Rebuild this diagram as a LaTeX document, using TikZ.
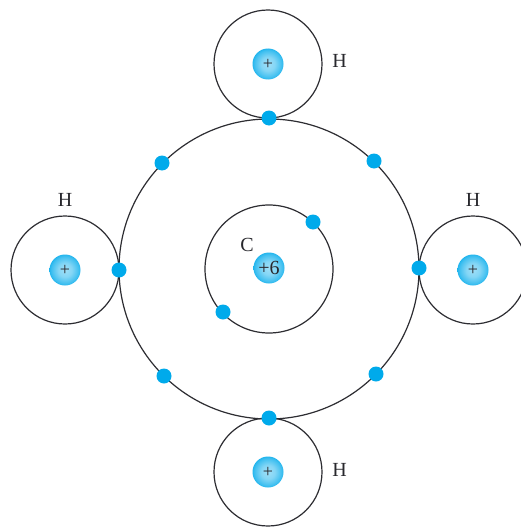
\documentclass[tikz,border=0pt]{standalone}
\usepackage{fontspec}
\setmainfont{Liberation Serif}
\definecolor{elec}{RGB}{0,170,235}
\definecolor{orbit}{RGB}{45,45,50}
\definecolor{txt}{RGB}{40,40,45}
\pgfdeclareradialshading{nucshade}{\pgfpoint{0bp}{0bp}}{
  color(0bp)=(white!62!elec);
  color(11bp)=(white!52!elec);
  color(22bp)=(white!25!elec);
  color(29bp)=(elec);
  color(36bp)=(elec!92!black);
  color(50bp)=(elec!92!black)}
\tikzset{
  x=1pt,y=-1pt,
  orbitring/.style={circle,draw=orbit,line width=1.2pt,fill=none,inner sep=0pt,outer sep=0pt},
  electron/.style={circle,fill=elec,minimum size=15pt,inner sep=0pt,outer sep=0pt},
  nucleus/.style={circle,shading=nucshade,minimum size=31pt,inner sep=0pt,outer sep=0pt,text=txt,font=\fontsize{20}{20}\selectfont},
  plusnuc/.style={nucleus,font=\fontsize{18}{18}\selectfont},
  atomlabel/.style={text=txt,inner sep=0pt,font=\fontsize{20}{20}\selectfont}
}
\begin{document}
\begin{tikzpicture}
\useasboundingbox (0,0) rectangle (520,527);
\fill[white] (0,0) rectangle (520,527);
% orbits
\node[orbitring,minimum size=300pt] (shell2) at (269,269) {};
\node[orbitring,minimum size=128pt] (shell1) at (269,269) {};
\node[orbitring,minimum size=108pt] (orbT) at (268,64) {};
\node[orbitring,minimum size=108pt] (orbL) at (65,270) {};
\node[orbitring,minimum size=108pt] (orbR) at (473,270) {};
\node[orbitring,minimum size=108pt] (orbB) at (268,472) {};
% nuclei
\node[nucleus] (nC) at (269,268) {+6};
\node[plusnuc] (nT) at (268,64) {+};
\node[plusnuc] (nL) at (65,270) {+};
\node[plusnuc] (nR) at (473,270) {+};
\node[plusnuc] (nB) at (268,472) {+};
% electrons
\node[electron] (e1) at (269,118) {};
\node[electron] (e2) at (162,163) {};
\node[electron] (e3) at (374,161) {};
\node[electron] (e4) at (119,270) {};
\node[electron] (e5) at (419,268) {};
\node[electron] (e6) at (164,376) {};
\node[electron] (e7) at (376,374) {};
\node[electron] (e8) at (269,418) {};
\node[electron] (e9) at (313,222) {};
\node[electron] (e10) at (223,312) {};
% labels
\node[atomlabel] (lC) at (247,245) {C};
\node[atomlabel] (lT) at (339.5,61) {H};
\node[atomlabel] (lL) at (65,200) {H};
\node[atomlabel] (lR) at (473,200) {H};
\node[atomlabel] (lB) at (339.5,470) {H};
\end{tikzpicture}
\end{document}
